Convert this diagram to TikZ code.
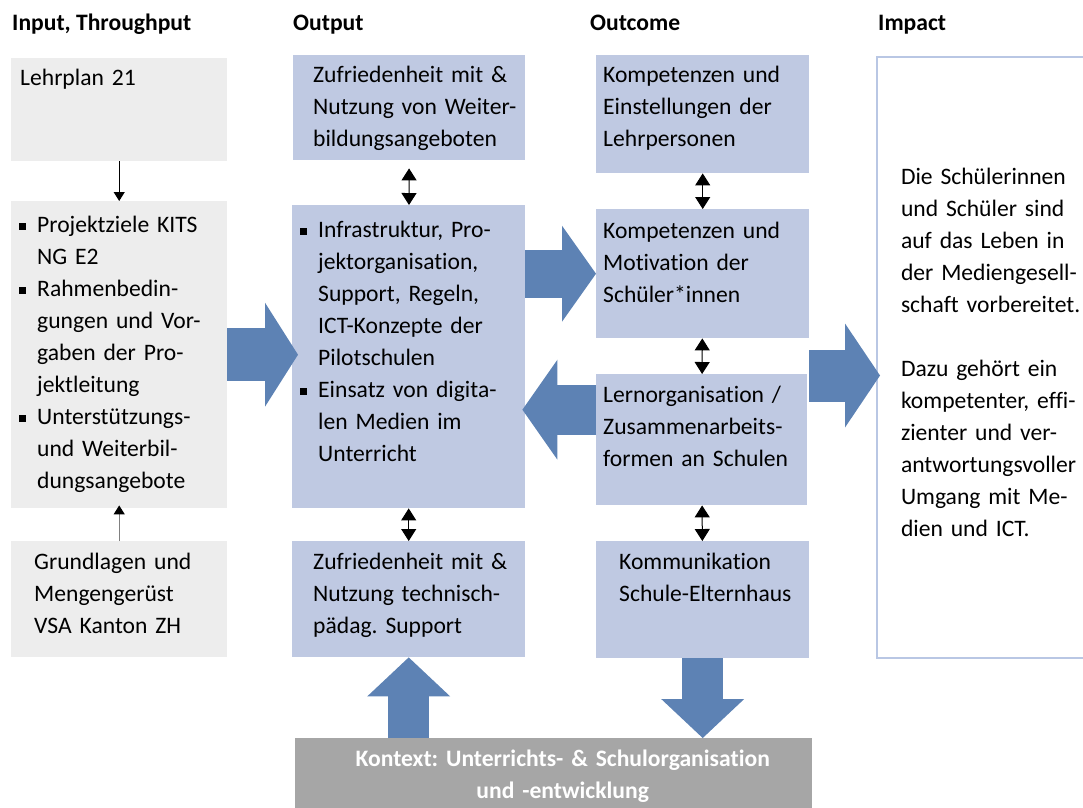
\documentclass[tikz,border=0pt]{standalone}
\usepackage{fontspec}
\setmainfont{Carlito}[Ligatures=NoCommon]
\usetikzlibrary{arrows.meta}
\definecolor{inputgray}{RGB}{237,237,237}
\definecolor{boxblue}{RGB}{191,201,226}
\definecolor{arrowblue}{RGB}{93,130,180}
\definecolor{contextgray}{RGB}{166,166,166}
\definecolor{impactborder}{RGB}{185,199,228}
\newcommand{\bodyfont}{\fontsize{23.6}{32}\selectfont\frenchspacing}
\newcommand{\sqitem}{\makebox[18pt][l]{\rule[2pt]{7pt}{7pt}}}
\newcommand{\sqnext}{\hspace*{18pt}}

\begin{document}
\begin{tikzpicture}[
        x=1pt, y=-1pt,
        head/.style={anchor=base west, inner sep=0pt, font=\bodyfont\bfseries},
        cell/.style n args={4}{anchor=north west, inner xsep=7pt, inner ysep=0pt, text width=#1, text height=#2, text depth=#3, align=left, font=\bodyfont, execute at begin node={\leftskip=#4\relax}},
        inbox/.style={fill=inputgray},
        outbox/.style={fill=boxblue},
        link/.style={-{Triangle[width=11pt,length=9pt]}, line width=1pt},
        uplink/.style={-{Triangle[width=11pt,length=9pt,color=black]}, draw=gray, line width=1pt},
        dlink/.style={{Triangle[width=15pt,length=12pt]}-{Triangle[width=15pt,length=12pt]}, line width=1pt},
        bigarrow/.style n args={3}{draw=arrowblue, line width=#1, -{Triangle[width=#2, length=#3, line width=0pt]}}
    ]
    \useasboundingbox (0,0) rectangle (1083,807);
    \clip (0,0) rectangle (1083,807);

    % Column heads
    \node[head] (hinput) at (12,30) {Input, Throughput};
    \node[head] (houtput) at (293,30) {Output};
    \node[head] (houtcome) at (590,30) {Outcome};
    \node[head] (himpact) at (878,30) {Impact};

    % Input, Throughput
    \node[cell={202pt}{27pt}{76pt}{2pt}, inbox] (lehrplan) at (11,58) {Lehrplan 21};
    \node[cell={202pt}{31pt}{276pt}{1pt}, inbox] (ziele) at (11,201) {\sqitem Projektziele KITS\\\sqnext NG E2\\
        \sqitem Rahmenbedin-\\\sqnext gungen und Vor-\\\sqnext gaben der Pro-\\\sqnext jektleitung\\
        \sqitem Unterstützungs-\\\sqnext und Weiterbil-\\\sqnext dungsangebote};
    \node[cell={202pt}{28pt}{88pt}{16pt}, inbox] (grundlagen) at (11,541) {Grundlagen und\\Mengengerüst\\VSA Kanton ZH};

    % Output
    \node[cell={218pt}{27pt}{78pt}{13pt}, outbox] (zufwb) at (293,55) {Zufriedenheit mit \&\\Nutzung von Weiter-\\bildungsangeboten};
    \node[cell={219pt}{32pt}{271pt}{1pt}, outbox] (infra) at (292,205) {\sqitem Infrastruktur, Pro-\\\sqnext jektorganisation,\\\sqnext Support, Regeln,\\\sqnext ICT-Konzepte der\\\sqnext Pilotschulen\\
        \sqitem Einsatz von digita-\\\sqnext len Medien im\\\sqnext Unterricht};
    \node[cell={219pt}{28pt}{88pt}{14pt}, outbox] (zufsupport) at (292,541) {Zufriedenheit mit \&\\Nutzung technisch-\\pädag. Support};

    % Outcome
    \node[cell={199pt}{27pt}{91pt}{0pt}, outbox] (kompl) at (596,55) {Kompetenzen und\\Einstellungen der\\Lehrpersonen};
    \node[cell={199pt}{29pt}{100pt}{0pt}, outbox] (komps) at (596,209) {Kompetenzen und\\Motivation der\\Schüler*innen};
    \node[cell={197pt}{28pt}{103pt}{0pt}, outbox] (lernorg) at (596,374) {Lernorganisation /\\Zusammenarbeits-\\formen an Schulen};
    \node[cell={199pt}{28pt}{89pt}{16pt}, outbox] (komm) at (596,541) {Kommunikation\\Schule-Elternhaus};

    % Impact
    \node[cell={226pt}{127pt}{474pt}{17pt}, draw=impactborder, line width=2pt, fill=white] (impact) at (876,56) {Die Schülerinnen\\und Schüler sind\\auf das Leben in\\der Mediengesell-\\schaft vorbereitet.\\[32pt]
        Dazu gehört ein\\kompetenter, effi-\\zienter und ver-\\antwortungsvoller\\Umgang mit Me-\\dien und ICT.};

    % Context
    \node[anchor=north west, inner xsep=7pt, inner ysep=0pt, text width=503pt, text height=28pt, text depth=70pt, align=center, fill=contextgray, text=white, font=\bodyfont\bfseries, execute at begin node={\leftskip=18pt plus 1fil\rightskip=0pt plus 1fil\relax}] (kontext) at (295,738) {Kontext: Unterrichts- \& Schulorganisation\\und -entwicklung};

    % Thin links
    \draw[link] (lehrplan) -- (ziele);
    \draw[uplink, shorten >=-3pt] (grundlagen) -- (ziele);
    \draw[dlink, shorten <=8pt] (zufwb) -- (infra);
    \draw[dlink] (infra) -- (zufsupport);
    \draw[dlink] (kompl) -- (komps);
    \draw[dlink] (komps) -- (lernorg);
    \draw[dlink] (lernorg) -- (komm);

    % Block arrows
    \coordinate (backin) at ([yshift=30pt]lernorg.west);
    \coordinate (toimpact) at ([yshift=-18pt]impact.west);
    \draw[bigarrow={53pt}{104pt}{33pt}, shorten >=-6pt] (ziele.east) -- (ziele.east -| infra.west);
    \draw[bigarrow={48pt}{96pt}{34pt}] (infra.east |- komps.west) -- (komps.west);
    \draw[bigarrow={50pt}{100pt}{35pt}, shorten >=-3pt] (backin) -- (backin -| infra.east);
    \draw[bigarrow={52pt}{104pt}{35pt}, shorten >=-4pt] (toimpact -| komps.east) -- (toimpact);
    \draw[bigarrow={41pt}{83pt}{39pt}] (komm.south) -- (komm.south |- kontext.north);
    \draw[bigarrow={41pt}{83pt}{39pt}] (zufsupport.south |- kontext.north) -- (zufsupport.south);

\end{tikzpicture}
\end{document}
